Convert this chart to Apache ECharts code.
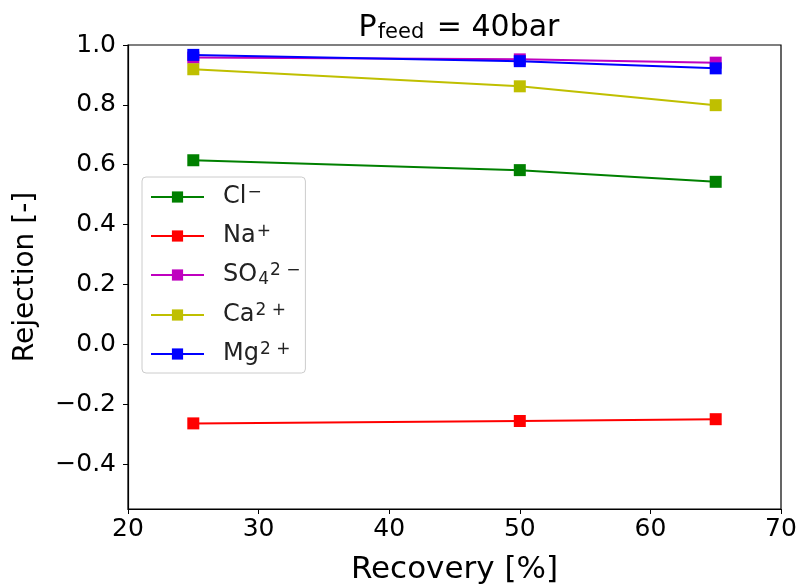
<!DOCTYPE html>
<html>
<head>
<meta charset="utf-8">
<script src="https://cdn.jsdelivr.net/npm/echarts@6/dist/echarts.min.js"></script>
<style>html,body{margin:0;padding:0;background:#fff}#c{width:798px;height:586px}</style>
</head>
<body>
<div id="c"></div>
<script>
const recovery = [25, 50, 65];
const cl = [0.615, 0.582, 0.543];
const na = [-0.264, -0.256, -0.25];
const so4 = [0.958, 0.952, 0.941];
const ca = [0.919, 0.862, 0.799];
const mg = [0.967, 0.946, 0.922];
const yTicks = [-0.4, -0.2, 0.0, 0.2, 0.4, 0.6, 0.8, 1.0];
const xTicks = [20, 30, 40, 50, 60, 70];
const seriesNames = ['Cl-', 'Na+', 'SO4 2-', 'Ca 2+', 'Mg 2+'];
const legendRich = {
  'Cl-': '{b|Cl}{sup|−}',
  'Na+': '{b|Na}{sup|+}',
  'SO4 2-': '{b|SO}{sub|4}{sup|2 −}',
  'Ca 2+': '{b|Ca}{sup|2 +}',
  'Mg 2+': '{b|Mg}{sup|2 +}'
};
const colors = ['#008000', '#ff0000', '#bf00bf', '#bfbf00', '#0000ff'];
const values = [cl, na, so4, ca, mg];
const FONT = 'DejaVu Sans';

const chart = echarts.init(document.getElementById('c'), null, {renderer: 'canvas'});
const series = seriesNames.map((n, i) => ({
  name: n,
  type: 'line',
  data: recovery.map((x, j) => [x, values[i][j]]),
  symbol: 'rect',
  symbolSize: 12,
  lineStyle: {color: colors[i], width: 2},
  itemStyle: {color: colors[i]},
  emphasis: {disabled: true},
  animation: false,
  z: 2 + i
}));

const fmtMinus = v => {
  const s = (Math.round(v * 10) / 10).toFixed(1);
  return s.replace('-', '−');
};

chart.setOption({
  animation: false,
  title: {
    text: '{p|P}{sub|feed}{p| = 40bar}',
    left: 454, textAlign: 'center', top: 2,
    textStyle: {
      fontFamily: FONT, fontWeight: 'normal',
      rich: {
        p: {fontFamily: FONT, fontSize: 30, fontWeight: 'normal', color: '#000', lineHeight: 36, verticalAlign: 'bottom'},
        sub: {fontFamily: FONT, fontSize: 21, fontWeight: 'normal', color: '#000', lineHeight: 22, verticalAlign: 'bottom', padding: [0, 3, 0, 1]}
      }
    }
  },
  grid: {left: 128, right: 17, top: 45, bottom: 77, outerBoundsMode: 'none', containLabel: false, show: true, borderColor: '#000', borderWidth: 1.2, backgroundColor: '#fff'},
  legend: {
    orient: 'vertical',
    left: 142, top: 177,
    data: seriesNames,
    itemWidth: 53, itemHeight: 14, itemGap: 14,
    padding: [7, 5, 7, 8],
    borderColor: '#cccccc', borderWidth: 1, borderRadius: 4,
    backgroundColor: 'rgba(255,255,255,0.85)',
    formatter: n => legendRich[n],
    textStyle: {
      fontFamily: FONT, fontSize: 24, color: '#222',
      rich: {
        b: {fontFamily: FONT, fontSize: 24, color: '#222', lineHeight: 26, padding: [0, 0, 0, 14], verticalAlign: 'middle'},
        sup: {fontFamily: FONT, fontSize: 17, color: '#222', lineHeight: 16, verticalAlign: 'top', padding: [0, 0, 0, 1]},
        sub: {fontFamily: FONT, fontSize: 17, color: '#222', lineHeight: 14, verticalAlign: 'bottom', padding: [0, 0, 0, 1]}
      }
    }
  },
  xAxis: {
    type: 'value', min: 20, max: 70, interval: 10,
    name: 'Recovery [%]', nameLocation: 'middle', nameGap: 45,
    nameTextStyle: {fontFamily: FONT, fontSize: 31, color: '#000'},
    axisLine: {show: true, onZero: false, lineStyle: {color: '#000', width: 1.2}},
    axisTick: {show: true, inside: false, length: 5, lineStyle: {color: '#000', width: 1}},
    axisLabel: {fontFamily: FONT, fontSize: 25, color: '#000', margin: 8, customValues: xTicks},
    splitLine: {show: false}
  },
  yAxis: {
    type: 'value', min: -0.55, max: 1.0,
    name: 'Rejection [-]', nameLocation: 'middle', nameGap: 88, nameRotate: 90,
    nameTextStyle: {fontFamily: FONT, fontSize: 28, color: '#000'},
    axisLine: {show: true, onZero: false, lineStyle: {color: '#000', width: 1.2}},
    axisTick: {show: true, inside: false, length: 5, lineStyle: {color: '#000', width: 1}, customValues: yTicks},
    axisLabel: {fontFamily: FONT, fontSize: 25, color: '#000', margin: 12, customValues: yTicks, formatter: fmtMinus},
    splitLine: {show: false}
  },
  series: series
});
</script>
</body>
</html>
